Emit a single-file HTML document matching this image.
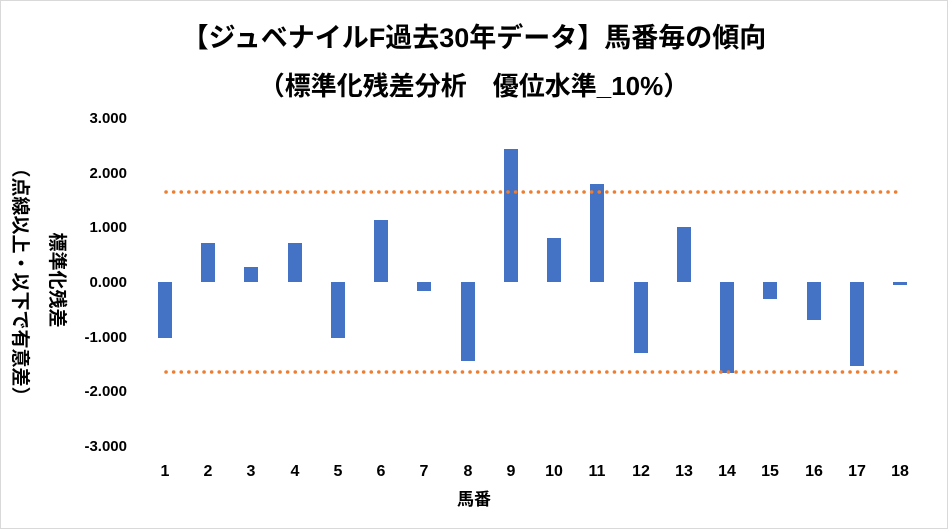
<!DOCTYPE html>
<html><head><meta charset="utf-8"><style>
html,body{margin:0;padding:0;background:#fff}
svg{display:block}
text{font-family:"Liberation Sans","Noto Sans CJK JP",sans-serif;font-weight:bold;fill:#000}
</style></head><body>
<svg width="949" height="530" viewBox="0 0 949 530" xmlns="http://www.w3.org/2000/svg">
<rect x="0.5" y="0.5" width="947" height="528" fill="#fff" stroke="#d9d9d9"/>
<text x="474" y="47" font-size="27" text-anchor="middle">【ジュベナイルF過去30年データ】馬番毎の傾向</text>
<text x="474" y="95" font-size="26" text-anchor="middle">（標準化残差分析　優位水準_10%）</text>
<g font-size="15" text-anchor="end">
<text x="127" y="123">3.000</text>
<text x="127" y="178">2.000</text>
<text x="127" y="232">1.000</text>
<text x="127" y="287">0.000</text>
<text x="127" y="342">-1.000</text>
<text x="127" y="396">-2.000</text>
<text x="127" y="451">-3.000</text>
</g>
<text transform="translate(14,282) rotate(90)" font-size="19" text-anchor="middle">（点線以上・以下で有意差）</text>
<text transform="translate(51,280) rotate(90)" font-size="19" text-anchor="middle">標準化残差</text>
<g fill="#4472c4">
<rect x="158" y="282" width="14" height="56"/>
<rect x="201" y="243" width="14" height="39"/>
<rect x="244" y="267" width="14" height="15"/>
<rect x="288" y="243" width="14" height="39"/>
<rect x="331" y="282" width="14" height="56"/>
<rect x="374" y="220" width="14" height="62"/>
<rect x="417" y="282" width="14" height="9"/>
<rect x="461" y="282" width="14" height="79"/>
<rect x="504" y="149" width="14" height="133"/>
<rect x="547" y="238" width="14" height="44"/>
<rect x="590" y="184" width="14" height="98"/>
<rect x="634" y="282" width="14" height="71"/>
<rect x="677" y="227" width="14" height="55"/>
<rect x="720" y="282" width="14" height="91"/>
<rect x="763" y="282" width="14" height="17"/>
<rect x="807" y="282" width="14" height="38"/>
<rect x="850" y="282" width="14" height="84"/>
<rect x="893" y="282" width="14" height="3"/>
</g>
<g stroke="#ed7d31" stroke-width="3.5" stroke-dasharray="0.1 7.5" stroke-linecap="round">
<line x1="166" y1="192" x2="902" y2="192"/>
<line x1="166" y1="372" x2="902" y2="372"/>
</g>
<g font-size="16" text-anchor="middle">
<text x="165" y="476">1</text><text x="208" y="476">2</text><text x="251" y="476">3</text>
<text x="295" y="476">4</text><text x="338" y="476">5</text><text x="381" y="476">6</text>
<text x="424" y="476">7</text><text x="468" y="476">8</text><text x="511" y="476">9</text>
<text x="554" y="476">10</text><text x="597" y="476">11</text><text x="641" y="476">12</text>
<text x="684" y="476">13</text><text x="727" y="476">14</text><text x="770" y="476">15</text>
<text x="814" y="476">16</text><text x="857" y="476">17</text><text x="900" y="476">18</text>
</g>
<text x="474" y="505" font-size="17" text-anchor="middle">馬番</text>
</svg>
</body></html>
